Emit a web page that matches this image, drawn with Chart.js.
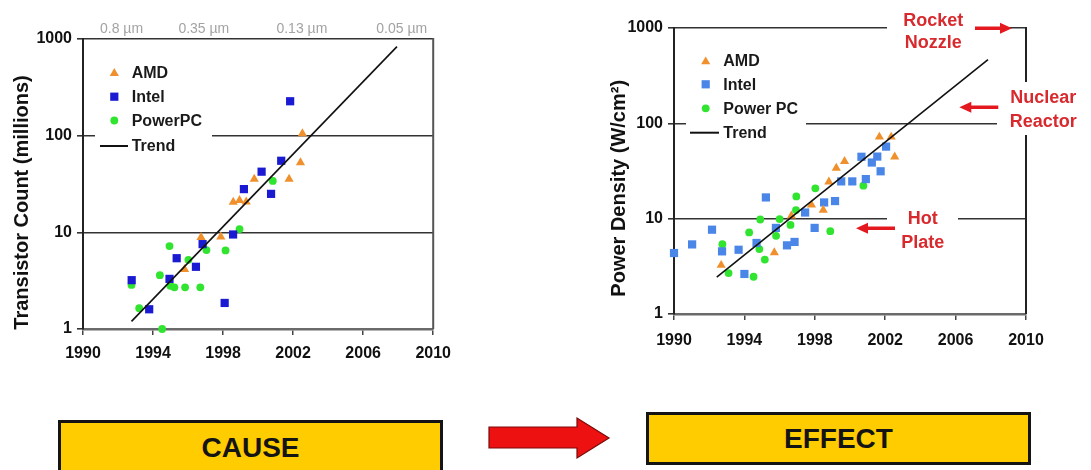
<!DOCTYPE html>
<html><head><meta charset="utf-8">
<script src="https://cdn.jsdelivr.net/npm/chart.js@4/dist/chart.umd.min.js"></script>
<style>
html,body{margin:0;padding:0;background:#fff;width:1091px;height:470px;overflow:hidden;position:relative;font-family:'Liberation Sans',Arial,sans-serif;}
canvas{position:absolute;top:0;}
#cLeft{left:0;}
#cRight{left:540px;}
.box{position:absolute;box-sizing:border-box;background:#ffcc00;border:3px solid #141414;font-weight:bold;font-size:28px;color:#141414;display:flex;align-items:center;justify-content:center;}
#cause{left:58px;top:420px;width:385px;height:55px;}
#effect{left:646px;top:412px;width:385px;height:53px;}
#arrow{position:absolute;left:485px;top:412px;}
</style></head><body>
<canvas id="cLeft" width="460" height="370"></canvas>
<canvas id="cRight" width="551" height="370"></canvas>
<div class="box" id="cause"></div>
<svg id="arrow" width="130" height="52" viewBox="485 412 130 52"><polygon points="489,427 577,427 577,418 609,438 577,458 577,448 489,448" fill="#ee1111" stroke="#7a0a0a" stroke-width="1.2"/></svg>
<div class="box" id="effect"></div>
<script>
// ---------- data ----------
const xTicks = [1990, 1994, 1998, 2002, 2006, 2010];
const yTicks = [1, 10, 100, 1000];
const nodeLabels = ['0.8 \u00b5m', '0.35 \u00b5m', '0.13 \u00b5m', '0.05 \u00b5m'];
const nodeYears = [1992.2, 1996.9, 2002.5, 2008.2];

const leftNames = ['AMD', 'Intel', 'PowerPC', 'Trend'];
const rightNames = ['AMD', 'Intel', 'Power PC', 'Trend'];
const leftTitle = 'Transistor Count (millions)';
const rightTitle = 'Power Density (W/cm\u00b2)';
const heatLabels = [['Rocket', 'Nozzle'], ['Nuclear', 'Reactor'], ['Hot', 'Plate']];
const causeText = 'CAUSE';
const effectText = 'EFFECT';

// transistor count (millions): [year, value]
const tcAmd = [[1995.8,4.15],[1996.74,8.9],[1997.87,9.0],[1998.58,20.6],[1998.94,21.4],[1999.32,20.7],[1999.78,35.6],[2001.77,35.5],[2002.42,52.6],[2002.53,105]];
const tcIntel = [[1992.78,3.2],[1993.78,1.6],[1994.94,3.3],[1995.35,5.4],[1996.45,4.4],[1996.83,7.55],[1998.09,1.86],[1998.57,9.5],[1999.19,28],[2000.2,42.4],[2000.74,25],[2001.32,55],[2001.83,227]];
const tcPowerPC = [[1992.77,2.86],[1993.21,1.64],[1994.39,3.6],[1994.52,1.0],[1994.94,7.2],[1994.99,2.8],[1995.22,2.7],[1995.83,2.7],[1996.02,5.2],[1996.7,2.7],[1997.05,6.55],[1998.14,6.5],[1998.94,10.8],[2000.84,34]];
const tcTrend = [[1992.77,1.2],[2007.93,835]];

// power density (W/cm2): [year, value]
const pdAmd = [[1992.68,3.25],[1995.7,4.4],[1996.67,10.7],[1997.81,14.0],[1998.48,12.3],[1998.8,24.3],[1999.22,34],[1999.69,40],[2001.67,72],[2002.34,72],[2002.54,44.6]];
const pdIntel = [[1990.0,4.36],[1991.03,5.37],[1992.16,7.66],[1992.73,4.54],[1993.67,4.72],[1994.0,2.63],[1994.69,5.56],[1995.22,16.7],[1995.79,8.0],[1996.42,5.25],[1996.85,5.7],[1997.45,11.6],[1997.99,8.0],[1998.53,14.8],[1999.15,15.3],[1999.5,24.6],[2000.13,24.6],[2000.65,44.6],[2000.9,26],[2001.24,38.8],[2001.55,44.8],[2001.74,31.4],[2002.05,57]];
const pdPowerPC = [[1992.75,5.4],[1993.1,2.69],[1994.27,7.18],[1994.52,2.46],[1994.85,4.8],[1994.9,9.8],[1995.16,3.72],[1995.8,6.6],[1996.0,9.9],[1996.62,8.6],[1996.93,12.3],[1996.95,17.1],[1998.03,20.8],[1998.88,7.4],[2000.76,22.2]];
const pdTrend = [[1992.43,2.44],[2007.84,466]];

// ---------- helpers ----------
document.getElementById('cause').textContent = causeText;
document.getElementById('effect').textContent = effectText;
Chart.defaults.font.family = "'Liberation Sans', Arial, sans-serif";
const FONT = "'Liberation Sans', Arial, sans-serif";
const toPts = a => a.map(([x, y]) => ({x, y}));

function drawMarker(ctx, style, x, y, r, color) {
  ctx.fillStyle = color;
  ctx.beginPath();
  if (style === 'triangle') {
    for (let k = 0; k < 3; k++) {
      const ang = k * 2 * Math.PI / 3;
      const px = x + Math.sin(ang) * r, py = y - Math.cos(ang) * r;
      k ? ctx.lineTo(px, py) : ctx.moveTo(px, py);
    }
    ctx.closePath();
  } else if (style === 'rect') {
    const s = r * Math.SQRT1_2;
    ctx.rect(x - s, y - s, 2 * s, 2 * s);
  } else {
    ctx.arc(x, y, r, 0, Math.PI * 2);
  }
  ctx.fill();
}

function drawArrow(ctx, tail, tip, y, color) {
  const dir = Math.sign(tip - tail), headL = 12, headH = 5.5, shaft = 1.8;
  ctx.fillStyle = color;
  ctx.beginPath();
  ctx.moveTo(tail, y - shaft);
  ctx.lineTo(tip - dir * headL, y - shaft);
  ctx.lineTo(tip - dir * headL, y - headH);
  ctx.lineTo(tip, y);
  ctx.lineTo(tip - dir * headL, y + headH);
  ctx.lineTo(tip - dir * headL, y + shaft);
  ctx.lineTo(tail, y + shaft);
  ctx.closePath();
  ctx.fill();
}

function makeChart(id, cfg) {
  const datasets = [
    {label: cfg.names[3], data: toPts(cfg.trend), showLine: true, pointRadius: 0, borderColor: '#111', backgroundColor: '#111', borderWidth: 1.6, order: 0},
    {label: cfg.names[0], data: toPts(cfg.amd), pointStyle: 'triangle', pointRadius: 5.3, pointBackgroundColor: '#f0902c', pointBorderWidth: 0, showLine: false, clip: false, order: 1},
    {label: cfg.names[1], data: toPts(cfg.intel), pointStyle: 'rect', pointRadius: 5.8, pointBackgroundColor: cfg.intelColor, pointBorderWidth: 0, showLine: false, clip: false, order: 1},
    {label: cfg.names[2], data: toPts(cfg.ppc), pointStyle: 'circle', pointRadius: 3.9, pointBackgroundColor: '#30e430', pointBorderWidth: 0, showLine: false, clip: false, order: 1}
  ];
  const scales = {
    x: {type: 'linear', position: 'bottom', min: 1990, max: 2010,
        afterBuildTicks: s => { s.ticks = xTicks.map(v => ({value: v})); },
        afterFit: s => { s.height = cfg.xAxisH; },
        ticks: {callback: v => String(v), maxRotation: 0, autoSkip: false, padding: cfg.xPad, color: '#111', font: {size: 16, weight: 'bold'}},
        grid: {drawOnChartArea: false, drawTicks: true, tickLength: 6, color: '#444', lineWidth: 1.5},
        border: {display: true, color: '#6a6a6a', width: 2.5}},
    y: {type: 'logarithmic', position: 'left', min: 1, max: 1000,
        afterBuildTicks: s => { s.ticks = yTicks.map(v => ({value: v})); },
        afterFit: s => { s.width = cfg.yAxisW; },
        ticks: {callback: v => String(v), padding: 5, color: '#111', font: {size: 16, weight: 'bold'}},
        grid: {color: '#333', lineWidth: 1.6, tickLength: 6, drawTicks: true},
        border: {display: true, color: '#222', width: 2}}
  };
  if (cfg.topNodes) {
    scales.x2 = {type: 'linear', position: 'top', min: 1990, max: 2010,
        afterBuildTicks: s => { s.ticks = nodeYears.map(v => ({value: v})); },
        afterFit: s => { s.height = cfg.topH; },
        ticks: {callback: (v, i) => nodeLabels[i], maxRotation: 0, autoSkip: false, padding: 1, color: '#a3a3a3', font: {size: 14}},
        grid: {display: false, drawTicks: false},
        border: {display: false}};
  }
  const plugin = {
    id: 'decor_' + id,
    beforeDatasetsDraw(chart) {
      const {ctx, chartArea: a} = chart;
      ctx.save();
      ctx.strokeStyle = cfg.frameColor; ctx.lineWidth = 2;
      ctx.beginPath(); ctx.moveTo(a.right, a.top - 1); ctx.lineTo(a.right, a.bottom); ctx.stroke();
      ctx.fillStyle = '#fff';
      cfg.masks.forEach(([x, y, w, h]) => ctx.fillRect(x, y, w, h));
      ctx.restore();
    },
    afterDraw(chart) {
      const ctx = chart.ctx;
      ctx.save();
      // legend
      const L = cfg.legend;
      const order = [1, 2, 3, 0];
      order.forEach((di, row) => {
        const ds = chart.data.datasets[di];
        const y = L.rows[row];
        if (di === 0) {
          ctx.strokeStyle = '#111'; ctx.lineWidth = 2;
          ctx.beginPath(); ctx.moveTo(L.lineX[0], y); ctx.lineTo(L.lineX[1], y); ctx.stroke();
        } else {
          drawMarker(ctx, ds.pointStyle, L.markX, y + (ds.pointStyle === 'triangle' ? 1 : 0), ds.pointRadius, ds.pointBackgroundColor);
        }
        ctx.fillStyle = '#1a1a1a';
        ctx.font = 'bold 16px ' + FONT;
        ctx.textAlign = 'left'; ctx.textBaseline = 'middle';
        ctx.fillText(ds.label, L.textX, y + 1);
      });
      // axis title
      ctx.save();
      ctx.translate(cfg.titlePos[0], cfg.titlePos[1]);
      ctx.rotate(-Math.PI / 2);
      ctx.fillStyle = '#111';
      ctx.font = 'bold 20px ' + FONT;
      ctx.textAlign = 'center'; ctx.textBaseline = 'middle';
      ctx.fillText(cfg.title, 0, 0);
      ctx.restore();
      // heat annotations
      if (cfg.notes) {
        ctx.font = 'bold 18px ' + FONT;
        ctx.textAlign = 'center'; ctx.textBaseline = 'middle';
        cfg.notes.forEach((n, i) => {
          ctx.fillStyle = '#d82a2e';
          ctx.fillText(heatLabels[i][0], n.tx, n.ty[0]);
          ctx.fillText(heatLabels[i][1], n.tx, n.ty[1]);
          drawArrow(ctx, n.arrow[0], n.arrow[1], n.arrow[2], '#e3191f');
        });
      }
      ctx.restore();
    }
  };
  return new Chart(document.getElementById(id), {
    type: 'scatter',
    data: {datasets},
    options: {
      responsive: false, animation: false, events: [],
      layout: {autoPadding: false, padding: cfg.padding},
      plugins: {legend: {display: false}, tooltip: {enabled: false}},
      scales
    },
    plugins: [plugin]
  });
}

makeChart('cLeft', {
  names: leftNames, amd: tcAmd, intel: tcIntel, ppc: tcPowerPC, trend: tcTrend,
  intelColor: '#1a1ad2', frameColor: '#555',
  yAxisW: 83, xAxisH: 41, xPad: 9, topNodes: true, topH: 39,
  padding: {top: 0, right: 24, left: 0, bottom: 0},
  masks: [[95, 58, 117, 100]],
  legend: {markX: 114.3, textX: 131.7, lineX: [100, 128], rows: [72.3, 96.7, 120.5, 146]},
  title: leftTitle, titlePos: [22.7, 202.5]
});

makeChart('cRight', {
  names: rightNames, amd: pdAmd, intel: pdIntel, ppc: pdPowerPC, trend: pdTrend,
  intelColor: '#4a86e8', frameColor: '#222',
  yAxisW: 134, xAxisH: 56, xPad: 10.5, topNodes: false,
  padding: {top: 28, right: 65, left: 0, bottom: 0},
  masks: [[146, 45, 120, 100], [347, 4, 116, 52], [457, 82, 90, 53], [347, 200, 71, 58]],
  legend: {markX: 165.7, textX: 183.3, lineX: [150, 179], rows: [60.7, 84.3, 108.3, 132.7]},
  title: rightTitle, titlePos: [79, 188.3],
  notes: [
    {tx: 393.3, ty: [20.7, 43.3], arrow: [435, 472, 28.3]},
    {tx: 503.3, ty: [98.3, 121.7], arrow: [458.3, 419.3, 107.3]},
    {tx: 382.7, ty: [219.3, 242.7], arrow: [355, 316, 228.3]}
  ]
});
</script>
</body></html>
